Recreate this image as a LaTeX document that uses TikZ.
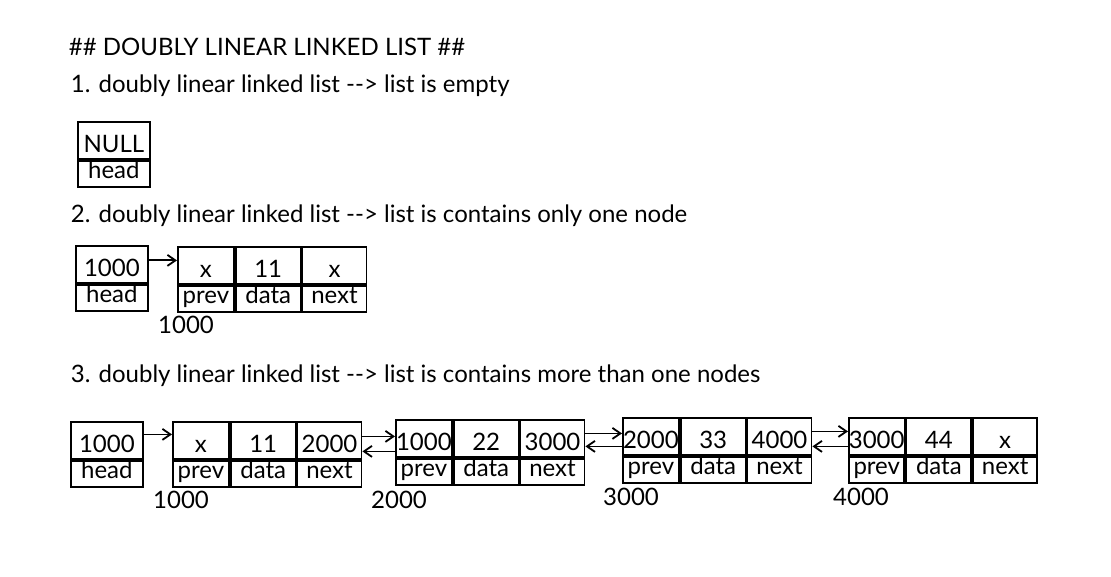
\documentclass[tikz,border=0pt]{standalone}
\usepackage{fontspec}
\setmainfont{Lato}
\usetikzlibrary{positioning,arrows.meta}

\begin{document}
\begin{tikzpicture}[x=1pt, y=-1pt, line width=1.8pt,
  font=\fontsize{24}{28}\selectfont,
  >={Straight Barb[length=8pt,width=11pt]},
  every node/.style={inner sep=0pt},
  val/.style={draw, shape=rectangle, minimum height=37pt, text height=25pt, text depth=0pt},
  lbl/.style={draw, shape=rectangle, minimum height=26pt, text height=16pt, text depth=7pt},
  txt/.style={anchor=base west}]
\useasboundingbox (0,0) rectangle (1111,577);
\node[txt] (title) at (68,56) {\#\# DOUBLY LINEAR LINKED LIST \#\#};
\node[txt] (s1) at (70,93) {1. doubly linear linked list {-}{-}> list is empty};
\node[txt] (s2) at (70,223) {2. doubly linear linked list {-}{-}> list is contains only one node};
\node[txt] (s3) at (70,382) {3. doubly linear linked list {-}{-}> list is contains more than one nodes};
% 1. empty list
\node[val, minimum width=72pt, anchor=north west] (h1v) at (77,121) {NULL};
\node[lbl, minimum width=72pt, below=0pt of h1v] (h1l) {head};
% 2. one node
\node[val, minimum width=72pt, anchor=north west] (h2v) at (75,245) {1000};
\node[lbl, minimum width=72pt, below=0pt of h2v] (h2l) {head};
\node[val, minimum width=56pt, anchor=north west] (a1p) at (177,246) {x};
\node[val, minimum width=65pt, right=0pt of a1p] (a1d) {11};
\node[val, minimum width=64pt, right=0pt of a1d] (a1n) {x};
\node[lbl, minimum width=56pt, below=0pt of a1p] (a1pl) {prev};
\node[lbl, minimum width=65pt, below=0pt of a1d] (a1dl) {data};
\node[lbl, minimum width=64pt, below=0pt of a1n] (a1nl) {next};
\node (a1addr) at (186,325) {1000};
\draw[->] ([yshift=4pt]h2v.east) -- ([yshift=4pt]h2v.east -| a1p.west);
% 3. more than one node
\node[val, minimum width=72pt, anchor=north west] (h3v) at (70,421) {1000};
\node[lbl, minimum width=72pt, below=0pt of h3v] (h3l) {head};
\node[val, minimum width=56pt, anchor=north west] (b1p) at (172,421) {x};
\node[val, minimum width=65pt, right=0pt of b1p] (b1d) {11};
\node[val, minimum width=64pt, right=0pt of b1d] (b1n) {2000};
\node[lbl, minimum width=56pt, below=0pt of b1p] (b1pl) {prev};
\node[lbl, minimum width=65pt, below=0pt of b1d] (b1dl) {data};
\node[lbl, minimum width=64pt, below=0pt of b1n] (b1nl) {next};
\node[val, minimum width=56pt, anchor=north west] (b2p) at (395,419) {1000};
\node[val, minimum width=65pt, right=0pt of b2p] (b2d) {22};
\node[val, minimum width=64pt, right=0pt of b2d] (b2n) {3000};
\node[lbl, minimum width=56pt, below=0pt of b2p] (b2pl) {prev};
\node[lbl, minimum width=65pt, below=0pt of b2d] (b2dl) {data};
\node[lbl, minimum width=64pt, below=0pt of b2n] (b2nl) {next};
\node[val, minimum width=56pt, anchor=north west] (b3p) at (622,417) {2000};
\node[val, minimum width=65pt, right=0pt of b3p] (b3d) {33};
\node[val, minimum width=64pt, right=0pt of b3d] (b3n) {4000};
\node[lbl, minimum width=56pt, below=0pt of b3p] (b3pl) {prev};
\node[lbl, minimum width=65pt, below=0pt of b3d] (b3dl) {data};
\node[lbl, minimum width=64pt, below=0pt of b3n] (b3nl) {next};
\node[val, minimum width=55pt, anchor=north west] (b4p) at (848,417) {3000};
\node[val, minimum width=65pt, right=0pt of b4p] (b4d) {44};
\node[val, minimum width=64pt, right=0pt of b4d] (b4n) {x};
\node[lbl, minimum width=55pt, below=0pt of b4p] (b4pl) {prev};
\node[lbl, minimum width=65pt, below=0pt of b4d] (b4dl) {data};
\node[lbl, minimum width=64pt, below=0pt of b4n] (b4nl) {next};
\node (b1addr) at (181,500) {1000};
\node (b2addr) at (399,500) {2000};
\node (b3addr) at (631,497) {3000};
\node (b4addr) at (861,497) {4000};
\draw[->] ([yshift=6pt]h3v.east) -- ([yshift=6pt]h3v.east -| b1p.west);
\draw[->] ([yshift=4pt]b1n.east) -- ([yshift=4pt]b1n.east -| b2p.west);
\draw[->] ([yshift=-13pt]b2p.west) -- ([yshift=-13pt]b2p.west -| b1n.east);
\draw[->] ([yshift=5pt]b2n.east) -- ([yshift=5pt]b2n.east -| b3p.west);
\draw[->] ([yshift=-10pt]b3p.west) -- ([yshift=-10pt]b3p.west -| b2n.east);
\draw[->] ([yshift=5pt]b3n.east) -- ([yshift=5pt]b3n.east -| b4p.west);
\draw[->] ([yshift=-10pt]b4p.west) -- ([yshift=-10pt]b4p.west -| b3n.east);
\end{tikzpicture}
\end{document}
